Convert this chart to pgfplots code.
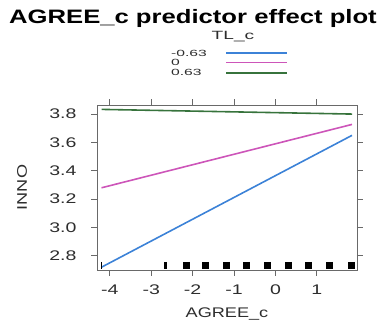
\documentclass[border=0pt]{standalone}
\usepackage{pgfplots}
\pgfplotsset{compat=1.18}
\usepackage{fontspec}
\setmainfont{Liberation Sans}
\definecolor{lblue}{RGB}{60,130,215}
\definecolor{lpink}{RGB}{205,85,185}
\definecolor{lgreen}{RGB}{55,115,60}
\definecolor{boxgray}{RGB}{105,105,105}
\definecolor{txtgray}{RGB}{45,45,45}
\begin{document}
\begin{tikzpicture}
\useasboundingbox (0bp,0bp) rectangle (385bp,323bp);
\begin{axis}[
  at={(97bp,53bp)}, anchor=south west,
  scale only axis, width=260bp, height=165bp,
  xmin=-4.31, xmax=1.97, ymin=2.70, ymax=3.864,
  xtick={-4,-3,-2,-1,0,1},
  ytick={2.8,3.0,3.2,3.4,3.6,3.8},
  xticklabel={\scalebox{1.4}[1]{\pgfmathprintnumber{\tick}}},
  yticklabel={\scalebox{1.4}[1]{\pgfmathprintnumber[fixed,fixed zerofill,precision=1]{\tick}}},
  tick align=outside,
  major tick length=6bp,
  axis line style={boxgray, line width=1pt},
  every major tick/.style={draw=none},
  tick label style={font=\fontsize{14}{14}\selectfont, text=txtgray},
  xticklabel style={yshift=-5bp},
  yticklabel style={xshift=-11bp},
  /pgf/number format/assume math mode=true,
  xlabel={AGREE\_c}, ylabel={INNO},
  label style={font=\fontsize{14}{14}\selectfont, text=txtgray, xscale=1.3},
  xlabel style={at={(axis description cs:0.5,-0.265)}, anchor=center},
  ylabel style={at={(axis description cs:-0.288,0.5)}, anchor=center},
  clip=false,
]
\pgfplotsinvokeforeach{-4,-3,-2,-1,0,1}{
  \draw[boxgray, line width=1pt] (axis cs:#1,2.70) -- ++(0pt,-6bp);
  \draw[boxgray, line width=1pt] (axis cs:#1,3.864) -- ++(0pt,6bp);
}
\pgfplotsinvokeforeach{2.8,3.0,3.2,3.4,3.6,3.8}{
  \draw[boxgray, line width=1pt] (axis cs:-4.31,#1) -- ++(-6bp,0pt);
  \draw[boxgray, line width=1pt] (axis cs:1.97,#1) -- ++(6bp,0pt);
}
\addplot[lblue, line width=1.6pt] coordinates {(-4.2,2.72) (1.85,3.65)};
\addplot[lpink, line width=1.6pt] coordinates {(-4.2,3.28) (1.85,3.727)};
\addplot[lgreen, line width=1.6pt] coordinates {(-4.2,3.833) (1.85,3.80)};
\addplot[only marks, mark=|, mark size=3.5bp, mark options={line width=7bp, black}]
  coordinates {(-2.16,2.7325) (-1.68,2.7325) (-1.18,2.7325) (-0.69,2.7325) (-0.19,2.7325) (0.32,2.7325) (0.80,2.7325) (1.31,2.7325) (1.84,2.7325)};
\addplot[only marks, mark=|, mark size=3.5bp, mark options={line width=2.5bp, black}]
  coordinates {(-2.65,2.7325)};
\addplot[only marks, mark=|, mark size=3.5bp, mark options={line width=1bp, black}]
  coordinates {(-4.2,2.7325)};
\end{axis}
\node[font=\fontsize{19.5}{19.5}\selectfont\bfseries, xscale=1.32] at (193bp,305bp) {AGREE\_c predictor effect plot};
\node[font=\fontsize{12}{12}\selectfont, text=txtgray, xscale=1.6] at (233bp,286bp) {TL\_c};
\node[font=\fontsize{9}{9}\selectfont, text=txtgray, xscale=1.75, anchor=west] at (165bp,270bp) {-0.63};
\node[font=\fontsize{9}{9}\selectfont, text=txtgray, xscale=1.75, anchor=west] at (165bp,261bp) {0};
\node[font=\fontsize{9}{9}\selectfont, text=txtgray, xscale=1.75, anchor=west] at (165bp,251bp) {0.63};
\draw[lblue, line width=1.6pt] (226bp,270bp) -- (287bp,270bp);
\draw[lpink, line width=1.6pt] (226bp,260.5bp) -- (287bp,260.5bp);
\draw[lgreen, line width=1.6pt] (226bp,250bp) -- (287bp,250bp);
\end{tikzpicture}
\end{document}
